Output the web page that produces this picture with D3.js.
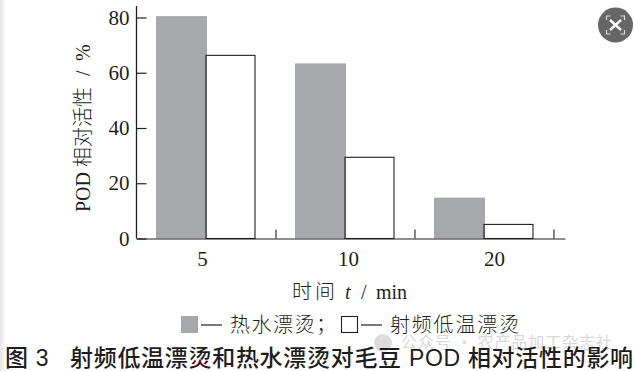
<!DOCTYPE html>
<html>
<head>
<meta charset="utf-8">
<script src="https://cdn.jsdelivr.net/npm/d3@7"></script>
<style>
html, body { margin: 0; padding: 0; background: #fff; }
svg { display: block; }
.axis text { font-family: "Liberation Serif", serif; font-size: 21px; fill: #231f20; }
.cjk { font-family: "Liberation Serif", "Noto Sans CJK SC", serif; fill: #231f20; font-weight: 300; }
.caption { font-family: "Liberation Sans", "Noto Sans CJK SC", sans-serif; font-size: 23px; font-weight: 500; fill: #1d1d1d; letter-spacing: 0.7px; }
</style>
</head>
<body>
<div id="chart"></div>
<script>
const times = ['5', '10', '20'];
const hotWater = [80.5, 63.4, 14.8];
const radioFreq = [66.3, 29.4, 5.1];
const yTicks = [0, 20, 40, 60, 80];

const width = 635, height = 371;
const svg = d3.select('#chart').append('svg')
    .attr('width', width)
    .attr('height', height);

// scan shadow on the left edge
let shade = svg.append('defs').append('linearGradient').attr('id', 'shade');
shade.append('stop').attr('offset', 0).attr('stop-color', '#e4e4e4');
shade.append('stop').attr('offset', 1).attr('stop-color', '#fff');
svg.append('rect').attr('width', 6).attr('height', height).attr('fill', 'url(#shade)');

let y = d3.scaleLinear().domain([0, 80]).range([238.5, 17.5]);
let x = d3.scaleBand().domain(times).range([136.5, 553.5]);
let inner = d3.scaleBand().domain(['hot', 'rf']).range([19.5, 118.5]);

// left axis, ticks point into the plot
let yAxis = svg.append('g')
    .attr('class', 'axis')
    .attr('transform', 'translate(136.5,0)')
    .call(d3.axisLeft(y).tickValues(yTicks).tickSize(-10).tickPadding(7));
yAxis.select('.domain').remove();
yAxis.selectAll('.tick line').attr('stroke', '#231f20').attr('stroke-width', 1.2);
yAxis.append('line').attr('y1', 6).attr('y2', 238.5).attr('stroke', '#231f20').attr('stroke-width', 1.3);

// bars
times.forEach((t, i) => {
    svg.append('rect')
        .attr('x', x(t) + inner('hot'))
        .attr('y', y(hotWater[i]))
        .attr('width', inner.bandwidth() + 1.5)
        .attr('height', y(0) - y(hotWater[i]))
        .attr('fill', '#a7a8ab');
    svg.append('rect')
        .attr('x', x(t) + inner('rf') + 0.5)
        .attr('y', y(radioFreq[i]))
        .attr('width', inner.bandwidth() - 0.5)
        .attr('height', y(0) - y(radioFreq[i]))
        .attr('fill', 'none')
        .attr('stroke', '#231f20')
        .attr('stroke-width', 1.1);
});

// bottom axis, group dividers sit at the end of each band
let xEdge = d3.scaleLinear().domain([0, 3.083]).range([136.5, 565]);
let xAxis = svg.append('g')
    .attr('transform', 'translate(0,238.5)')
    .call(d3.axisBottom(xEdge).tickValues([1, 2, 3]).tickSize(-9).tickSizeOuter(0).tickFormat(''));
xAxis.select('.domain').attr('stroke', '#231f20').attr('stroke-width', 1.2);
xAxis.selectAll('.tick line').attr('stroke', '#231f20').attr('stroke-width', 1.1);

let xLabels = d3.scalePoint().domain(times).range([202, 494]);
let xLabelAxis = svg.append('g')
    .attr('class', 'axis')
    .attr('transform', 'translate(0,238.5)')
    .call(d3.axisBottom(xLabels).tickSize(0).tickPadding(13));
xLabelAxis.select('.domain').remove();

// axis titles
let yTitle = svg.append('text').attr('class', 'cjk')
    .attr('transform', 'translate(90,212) rotate(-90)')
    .attr('font-size', 20);
yTitle.append('tspan').attr('x', 0).text('POD');
yTitle.append('tspan').attr('x', 45).text('相对活性');
yTitle.append('tspan').attr('x', 136).text('/');
yTitle.append('tspan').attr('x', 151).text('%');

let xTitle = svg.append('text').attr('class', 'cjk')
    .attr('y', 299)
    .attr('font-size', 20);
xTitle.append('tspan').attr('x', 292).attr('letter-spacing', 3).text('时间');
xTitle.append('tspan').attr('x', 345).attr('font-style', 'italic').text('t');
xTitle.append('tspan').attr('x', 361).text('/');
xTitle.append('tspan').attr('x', 376).text('min');

// legend
svg.append('rect').attr('x', 181).attr('y', 316).attr('width', 17).attr('height', 17).attr('fill', '#a7a8ab');
svg.append('rect').attr('x', 341.5).attr('y', 316.5).attr('width', 16).attr('height', 16)
    .attr('fill', 'none').attr('stroke', '#231f20').attr('stroke-width', 1.1);
svg.append('line').attr('x1', 201).attr('x2', 222).attr('y1', 325).attr('y2', 325).attr('stroke', '#231f20').attr('stroke-width', 1.2);
svg.append('line').attr('x1', 361).attr('x2', 382).attr('y1', 325).attr('y2', 325).attr('stroke', '#231f20').attr('stroke-width', 1.2);
svg.append('text').attr('class', 'cjk').attr('x', 230).attr('y', 331.5).attr('font-size', 20).attr('letter-spacing', 1.5)
    .text('热水漂烫；');
svg.append('text').attr('class', 'cjk').attr('x', 390).attr('y', 331.5).attr('font-size', 20).attr('letter-spacing', 1.8)
    .text('射频低温漂烫');

// watermark
svg.append('circle').attr('cx', 383).attr('cy', 343).attr('r', 9).attr('fill', '#dcdcdc');
svg.append('text').attr('x', 401).attr('y', 348)
    .attr('font-family', '"Noto Sans CJK SC"').attr('font-size', 16).attr('letter-spacing', 0.9).attr('fill', '#d8d8d8')
    .text('公众号 · 农产品加工杂志社');

// caption
svg.append('text').attr('class', 'caption').attr('x', 5).attr('y', 366).text('图 3');
svg.append('text').attr('class', 'caption').attr('x', 70).attr('y', 366)
    .text('射频低温漂烫和热水漂烫对毛豆 POD 相对活性的影响');

// expand button top right
svg.append('circle').attr('cx', 615.5).attr('cy', 25).attr('r', 17.5).attr('fill', '#666');
let corners = [[-1, -1], [1, -1], [-1, 1], [1, 1]];
corners.forEach(c => {
    let cx = 615.5 + c[0] * 9, cy = 25 + c[1] * 9;
    svg.append('path')
        .attr('d', `M${cx - c[0] * 4},${cy}H${cx}V${cy - c[1] * 4}`)
        .attr('fill', 'none').attr('stroke', '#ddd').attr('stroke-width', 1.2);
});
svg.append('path').attr('d', 'M610,20L621,30M621,20L610,30')
    .attr('stroke', '#fff').attr('stroke-width', 2.4);
</script>
</body>
</html>
